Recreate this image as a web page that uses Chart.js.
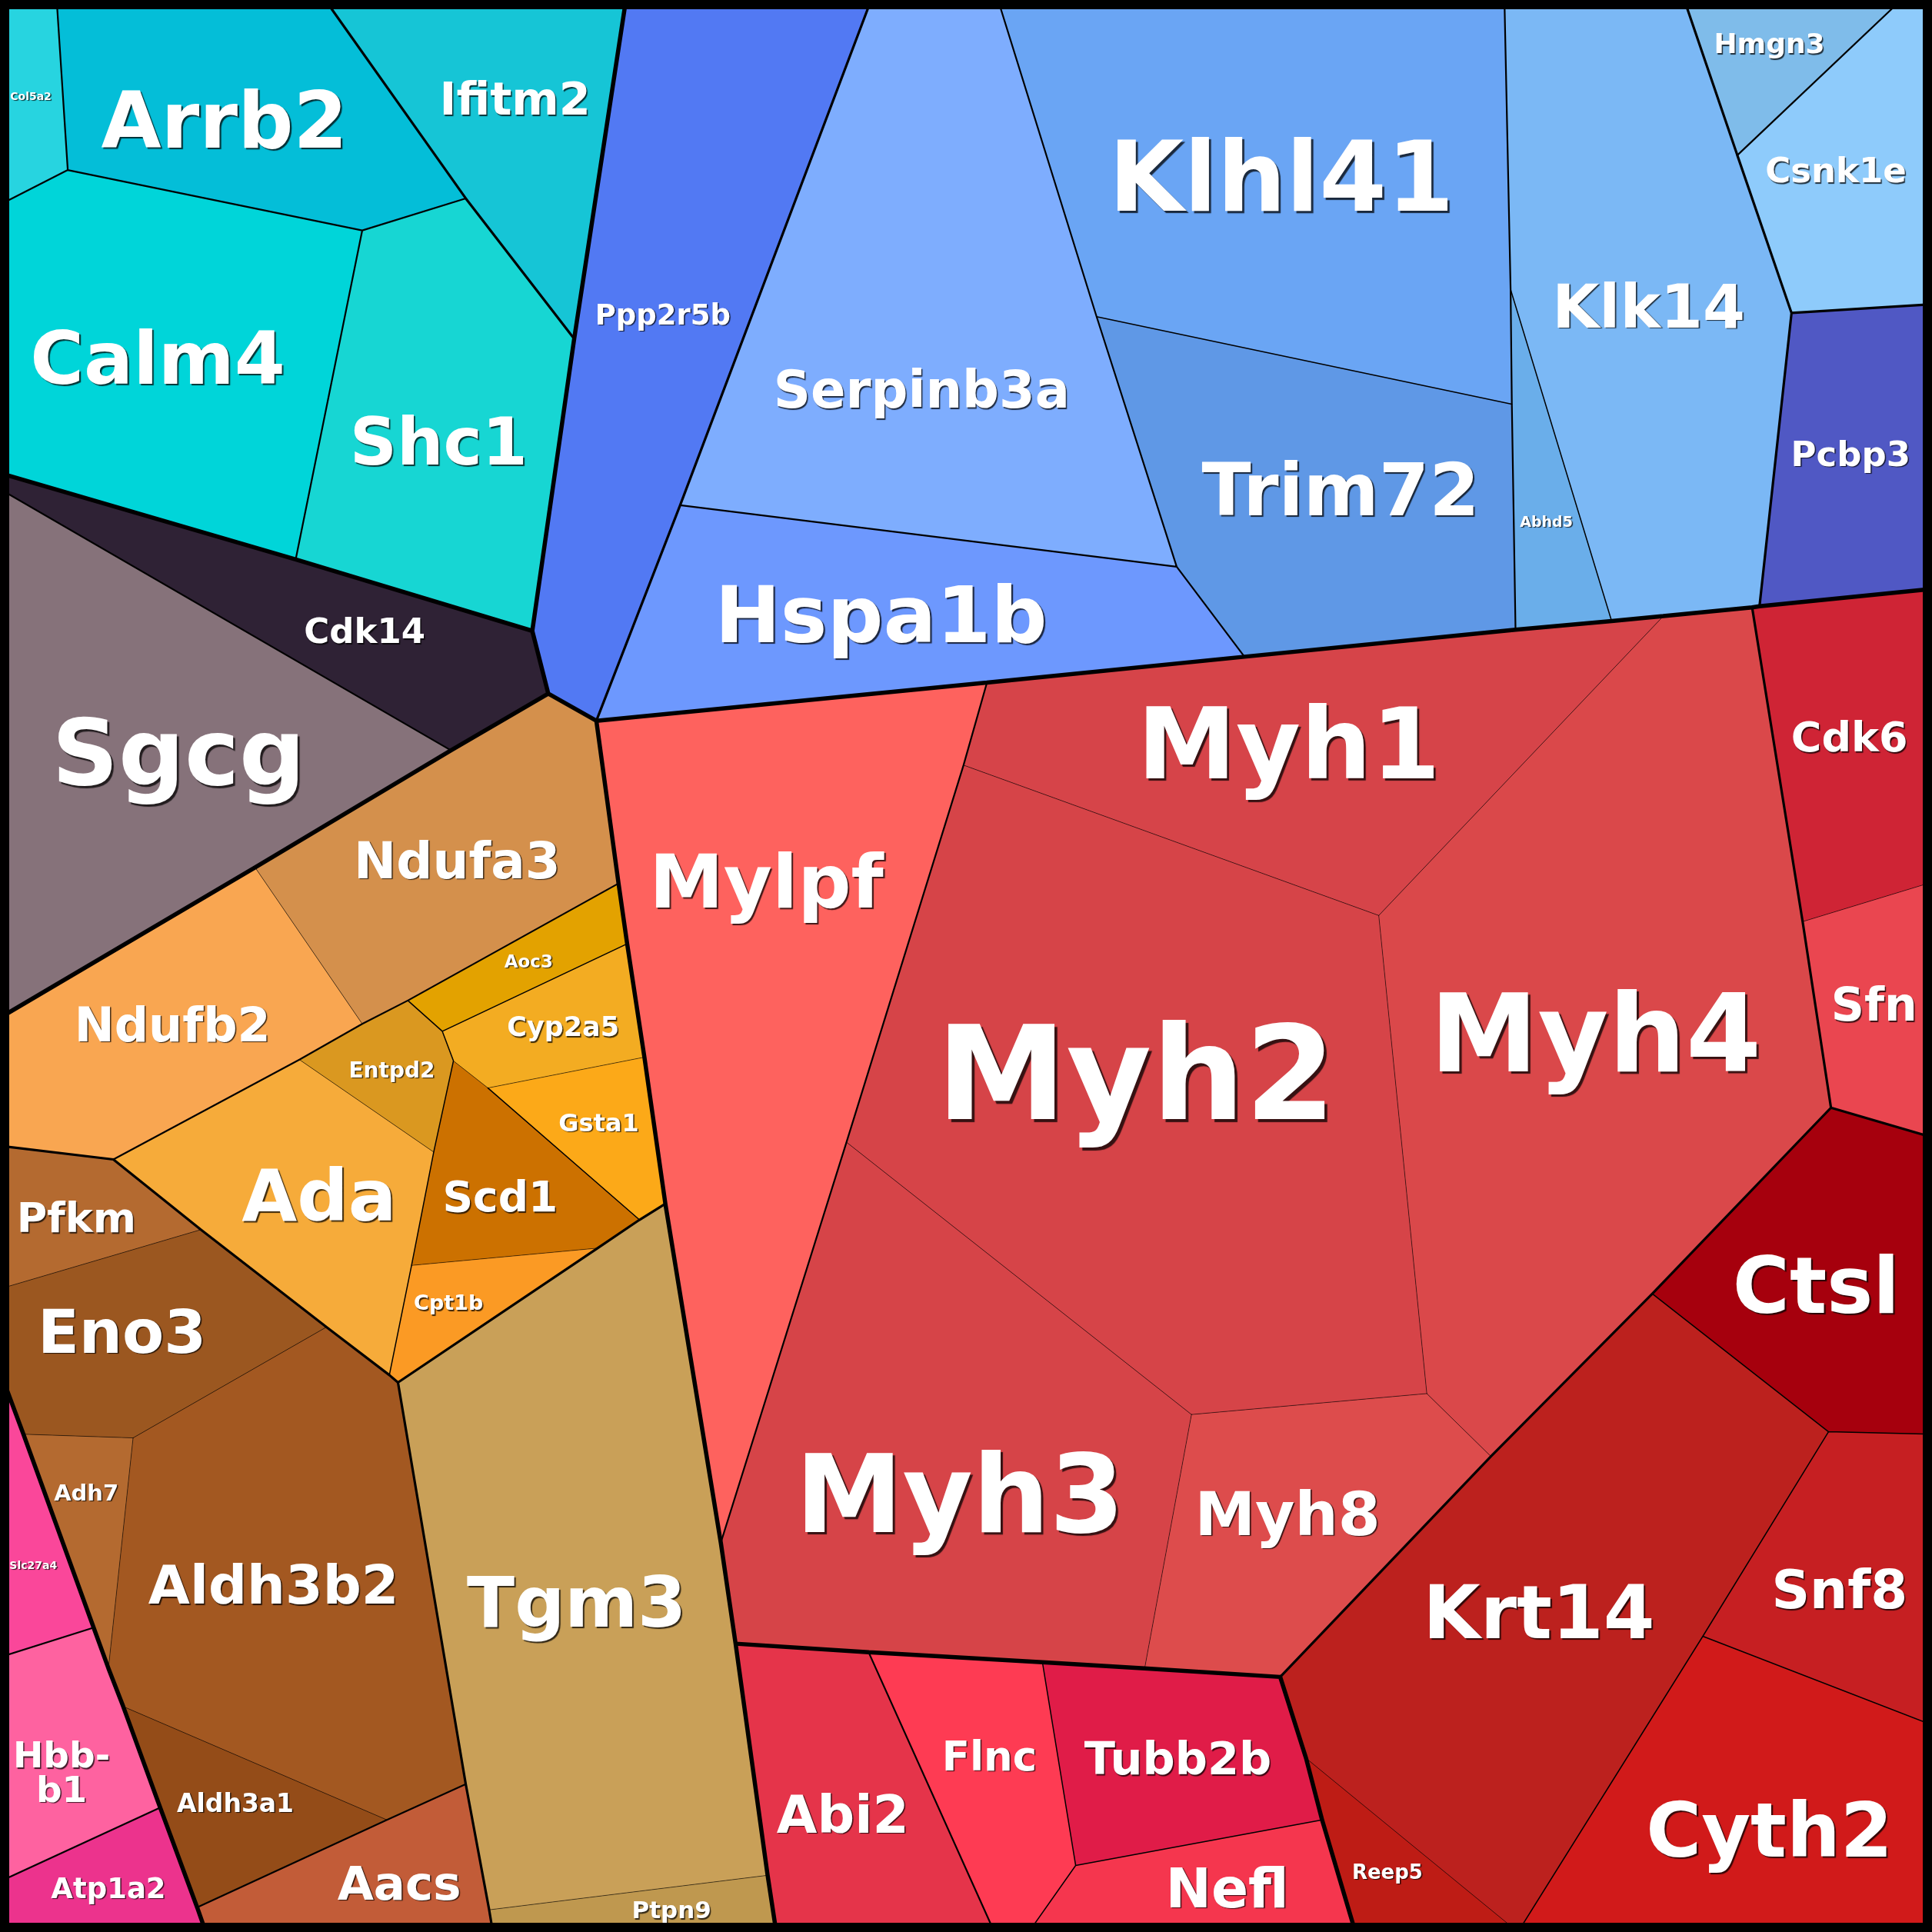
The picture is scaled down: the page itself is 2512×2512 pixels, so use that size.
<!DOCTYPE html>
<html>
<head>
<meta charset="utf-8">
<script src="https://cdn.jsdelivr.net/npm/chart.js@4.4.1/dist/chart.umd.min.js"></script>
<style>
  html, body { margin: 0; padding: 0; background: #000; }
  canvas { display: block; }
</style>
</head>
<body>
<canvas id="treemap" width="2512" height="2512"></canvas>
<script>
// Voronoi treemap cells, in reference units (0..1568 square)
const cellNames = ['Col5a2','Arrb2','Ifitm2','Calm4','Shc1','Cdk14','Sgcg','Ppp2r5b','Serpinb3a','Hspa1b',
  'Klhl41','Trim72','Abhd5','Klk14','Hmgn3','Csnk1e','Pcbp3','Mylpf','Myh1','Myh2','Myh4','Myh3','Myh8',
  'Cdk6','Sfn','Ctsl','Krt14','Snf8','Cyth2','Reep5','Abi2','Flnc','Tubb2b','Nefl','Ndufa3','Ndufb2','Aoc3',
  'Cyp2a5','Gsta1','Entpd2','Scd1','Ada','Cpt1b','Pfkm','Eno3','Adh7','Aldh3b2','Aldh3a1','Aacs','Tgm3',
  'Ptpn9','Slc27a4','Hbb-b1','Atp1a2'];

// hierarchy path of every cell (group.subgroup.…)
const cellGroups = ['cy.a.1','cy.a.2','cy.b.1','cy.a.3','cy.a.4','dk.a.1','dk.a.2','bl.a.1','bl.b.s','bl.b.h',
  'bl.b.k.1','bl.b.k.2','bl.b.l.2','bl.b.l.1','bl.c.1','bl.c.2','bl.d.1','rd.m.p','rd.m.h','rd.m.h','rd.m.h','rd.m.h','rd.m.h',
  'rd.c.1','rd.c.1','rd.k.a.1','rd.k.a.2','rd.k.a.3','rd.k.a.4','rd.k.a.2','bt.x.a','bt.x.b.1','bt.x.b.2','bt.x.b.3',
  'og.o.n','og.o.n','og.o.m.1','og.o.m.2','og.o.m.2','og.o.m.3','og.o.m.4','og.o.m.3','og.o.m.4',
  'og.b.p','og.b.p','og.b.p','og.b.p','og.b.p','og.b.a','og.t','og.t','pk.a.1','pk.a.2','pk.a.3'];

const cellPolygons = [
  [0,0, 46,0, 55,138, 0,166],                                   // Col5a2
  [46,0, 264,0, 378,161, 294,187, 55,138],                      // Arrb2
  [264,0, 508,0, 466,275, 378,161],                             // Ifitm2
  [0,166, 55,138, 294,187, 240,454, 0,384],                     // Calm4
  [294,187, 378,161, 466,275, 432,512, 240,454],                // Shc1
  [0,384, 240,454, 432,512, 445,563, 366,609, 0,397],           // Cdk14
  [0,397, 366,609, 0,826],                                      // Sgcg
  [508,0, 707,0, 552,410, 484,585, 445,563, 432,512, 466,275],  // Ppp2r5b
  [707,0, 810,0, 890,257, 955,460, 552,410],                    // Serpinb3a
  [552,410, 955,460, 1010,533, 801,554, 484,585],               // Hspa1b
  [810,0, 1221,0, 1227,328, 890,257],                           // Klhl41
  [890,257, 1227,328, 1230,511, 1010,533, 955,460],             // Trim72
  [1226,235, 1308,504, 1230,511, 1227,328],                     // Abhd5
  [1221,0, 1367,0, 1410,126, 1454,254, 1428,492, 1308,504, 1226,235], // Klk14
  [1367,0, 1543,0, 1410,126],                                   // Hmgn3
  [1543,0, 1568,0, 1568,247, 1454,254, 1410,126],               // Csnk1e
  [1454,254, 1568,247, 1568,478, 1428,492],                     // Pcbp3
  [484,585, 801,554, 782,621, 687,927, 585,1252, 540,977, 523,858, 509,766, 502,717], // Mylpf
  [801,554, 1350,500, 1119,743, 782,621],                       // Myh1
  [782,621, 1119,743, 1158,1131, 967,1148, 687,927],            // Myh2
  [1350,500, 1422,493, 1486,899, 1341,1050, 1210,1182, 1158,1131, 1119,743], // Myh4
  [687,927, 967,1148, 929,1354, 597,1334, 585,1252],            // Myh3
  [967,1148, 1158,1131, 1210,1182, 1039,1361, 929,1354],        // Myh8
  [1422,493, 1568,478, 1568,716, 1463,748],                     // Cdk6
  [1463,748, 1568,716, 1568,923, 1486,899],                     // Sfn
  [1486,899, 1568,923, 1568,1164, 1484,1162, 1341,1050],        // Ctsl
  [1341,1050, 1484,1162, 1382,1328, 1232,1568, 1060,1427, 1039,1361], // Krt14
  [1484,1162, 1568,1164, 1568,1400, 1382,1328],                 // Snf8
  [1382,1328, 1568,1400, 1568,1568, 1232,1568],                 // Cyth2
  [1060,1427, 1232,1568, 1100,1568, 1073,1477],                 // Reep5
  [597,1334, 705,1341, 807,1568, 630,1568],                     // Abi2
  [705,1341, 846,1349, 873,1514, 835,1568, 807,1568],           // Flnc
  [846,1349, 929,1354, 1039,1361, 1060,1427, 1073,1477, 873,1514], // Tubb2b
  [873,1514, 1073,1477, 1100,1568, 835,1568],                   // Nefl
  [207,704, 366,609, 445,563, 484,585, 502,717, 331,812, 294,831], // Ndufa3
  [0,826, 207,704, 294,831, 243,860, 92,941, 0,930],            // Ndufb2
  [331,812, 502,717, 509,766, 359,837],                         // Aoc3
  [359,837, 509,766, 523,858, 396,883, 368,861],                // Cyp2a5
  [368,861, 396,883, 523,858, 540,977, 519,990],                // Gsta1
  [294,831, 331,812, 359,837, 368,861, 352,935, 243,860],       // Entpd2
  [368,861, 519,990, 485,1013, 334,1027, 352,935],              // Scd1
  [92,941, 243,860, 352,935, 334,1027, 316,1116, 265,1077, 163,998], // Ada
  [334,1027, 485,1013, 323,1122, 316,1116],                     // Cpt1b
  [0,930, 92,941, 163,998, 0,1046],                             // Pfkm
  [0,1046, 163,998, 265,1077, 108,1167, 19,1164, 0,1113],       // Eno3
  [19,1164, 108,1167, 88,1354],                                 // Adh7
  [108,1167, 265,1077, 323,1122, 378,1448, 314,1477, 100,1385, 88,1354], // Aldh3b2
  [100,1385, 314,1477, 160,1548],                               // Aldh3a1
  [160,1548, 314,1477, 378,1448, 397,1550, 400,1568, 167,1568], // Aacs
  [323,1122, 540,977, 585,1252, 597,1334, 623,1522, 397,1550],  // Tgm3
  [397,1550, 623,1522, 630,1568, 400,1568],                     // Ptpn9
  [0,1113, 76,1321, 0,1345],                                    // Slc27a4
  [0,1345, 76,1321, 130,1467, 0,1527],                          // Hbb-b1
  [0,1527, 130,1467, 167,1568, 0,1568]                          // Atp1a2
];

const cellColors = ['#27d4e0','#04bed8','#16c5d6','#00d5d9','#17d6d3','#2f2235','#86727a','#5279f3','#7eadfe','#6d98fe',
  '#6aa5f4','#5f98e6','#6aaeea','#7bb8f5','#7fbcea','#8ecbfb','#5058c4','#fe625e','#d64449','#d64448','#da484a','#d64448','#dd4c4c',
  '#cf2435','#ea4650','#a6000d','#bc211e','#c61f22','#d11a1a','#be1c15','#e5344a','#fe3b53','#e01c48','#f5364e',
  '#d4904c','#f9a651','#e3a200','#f3ac22','#fca918','#da9820','#cc7100','#f6ab3a','#fb9a24',
  '#b46a30','#9b5720','#b46a30','#a35821','#944c18','#c25c38','#c9a058','#bf984f','#fa479a','#fe62a0','#ec338d'];

// label anchor (cell site) in reference units, and label font size in px
const labelPos = [[25,78],[182,97],[418,80],[128,290],[356,358],[296,512],[145,610],[538,255],[748,316],[715,498],
  [1040,143],[1088,397],[1255,423],[1338,248],[1436,35],[1490,138],[1502,368],[622,715],[1046,603],[922,870],[1295,838],[779,1212],[1045,1228],
  [1501,598],[1521,815],[1474,1043],[1249,1308],[1493,1290],[1436,1485],[1126,1519],[684,1472],[803,1425],[956,1427],[996,1532],
  [371,698],[140,831],[429,780],[457,833],[486,911],[318,868],[406,971],[259,970],[364,1057],
  [62,988],[99,1080],[70,1211],[222,1286],[191,1463],[324,1528],[468,1300],[545,1550],[27,1270],[50,1438],[88,1532]];
const labelSizes = [14,101,59,95,85,45,120,37,67,102, 126,94,19,79,36,45,45,97,129,170,141,140,79,
  54,60,101,96,69,98,26,68,53,59,71, 66,62,23,35,32,28,55,93,27, 54,79,29,70,33,61,91,31,14,47,37];

const SIZE = 1568;
const TOL = 3.5;
const levelWidths = [5.5, 3.2, 2.2, 1.5];
const frameWidth = 24;

// shared vertex table so neighbouring cells use identical corners
const verts = [];
function vertexId(x, y) {
  for (let i = 0; i < verts.length; i++) {
    if (Math.hypot(verts[i][0] - x, verts[i][1] - y) < TOL) return i;
  }
  verts.push([x, y]);
  return verts.length - 1;
}
const rings = cellPolygons.map(flat => {
  const r = [];
  for (let i = 0; i < flat.length; i += 2) {
    const id = vertexId(flat[i], flat[i + 1]);
    if (r[r.length - 1] !== id) r.push(id);
  }
  if (r[0] === r[r.length - 1]) r.pop();
  return r;
});
// add T-junction corners lying on an edge
const fullRings = rings.map(r => {
  const out = [];
  r.forEach((a, k) => {
    const b = r[(k + 1) % r.length];
    out.push(a);
    const [ax, ay] = verts[a], [bx, by] = verts[b];
    const dx = bx - ax, dy = by - ay, len2 = dx * dx + dy * dy;
    const mids = [];
    verts.forEach((v, id) => {
      if (id === a || id === b) return;
      const t = ((v[0] - ax) * dx + (v[1] - ay) * dy) / len2;
      if (t <= 0.001 || t >= 0.999) return;
      if (Math.hypot(v[0] - (ax + t * dx), v[1] - (ay + t * dy)) < TOL) mids.push([t, id]);
    });
    mids.sort((p, q) => p[0] - q[0]).forEach(m => out.push(m[1]));
  });
  return out;
});

// edges and their neighbouring cells
const edgeMap = new Map();
fullRings.forEach((r, ci) => r.forEach((a, k) => {
  const b = r[(k + 1) % r.length];
  const key = a < b ? a + '-' + b : b + '-' + a;
  if (!edgeMap.has(key)) edgeMap.set(key, { a, b, cells: [] });
  edgeMap.get(key).cells.push(ci);
}));

function onBorder(v) {
  return v[0] <= 0 || v[0] >= SIZE || v[1] <= 0 || v[1] >= SIZE;
}
function edgeStyle(e) {
  if (e.cells.length < 2) {
    if (onBorder(verts[e.a]) && onBorder(verts[e.b])) return { w: frameWidth, c: '#000000' };
    return { w: 2, c: '#000000' };
  }
  const p = cellGroups[e.cells[0]].split('.');
  const q = cellGroups[e.cells[1]].split('.');
  for (let d = 0; d < Math.max(p.length, q.length); d++) {
    if (p[d] !== q[d]) return { w: levelWidths[Math.min(d, 3)], c: '#000000' };
  }
  return { w: 1, c: 'rgba(0,0,0,0.55)' };
}

const edgeGroups = {};
edgeMap.forEach(e => {
  const s = edgeStyle(e);
  const key = s.w + '|' + s.c;
  if (!edgeGroups[key]) edgeGroups[key] = { w: s.w, c: s.c, data: [] };
  edgeGroups[key].data.push({ x: verts[e.a][0], y: verts[e.a][1] }, { x: verts[e.b][0], y: verts[e.b][1] }, { x: null, y: null });
});

const datasets = [];
fullRings.forEach((r, ci) => {
  const pts = r.map(id => ({ x: verts[id][0], y: verts[id][1] }));
  pts.push(pts[0]);
  datasets.push({
    label: cellNames[ci],
    data: pts,
    showLine: true,
    fill: 'shape',
    backgroundColor: cellColors[ci],
    borderWidth: 0,
    pointRadius: 0,
    order: 100
  });
});
Object.values(edgeGroups).forEach(g => {
  datasets.push({
    label: 'edges ' + g.w,
    data: g.data,
    showLine: true,
    fill: false,
    spanGaps: false,
    borderColor: g.c,
    borderWidth: g.w,
    borderCapStyle: 'round',
    pointRadius: 0,
    order: 50 - g.w
  });
});

// cell labels at their sites
const labelPlugin = {
  id: 'cellLabels',
  afterDatasetsDraw(chart) {
    const { ctx, scales: { x, y } } = chart;
    fullRings.forEach((r, ci) => {
      let minX = Infinity, maxX = -Infinity;
      r.forEach(id => {
        const px = x.getPixelForValue(verts[id][0]);
        minX = Math.min(minX, px); maxX = Math.max(maxX, px);
      });
      const size = labelSizes[ci];
      const cx = x.getPixelForValue(labelPos[ci][0]);
      const cy = y.getPixelForValue(labelPos[ci][1]) + size * 0.1;
      const name = cellNames[ci];
      ctx.save();
      ctx.font = 'bold ' + size + 'px "DejaVu Sans"';
      ctx.textAlign = 'center';
      ctx.textBaseline = 'middle';
      let lines = [name];
      if (name.includes('-') && ctx.measureText(name).width > 0.85 * (maxX - minX)) {
        const i = name.indexOf('-') + 1;
        lines = [name.slice(0, i), name.slice(i)];
      }
      const off = Math.max(1.5, size * 0.022);
      ctx.shadowColor = 'rgba(0,0,0,0.75)';
      ctx.shadowOffsetX = off;
      ctx.shadowOffsetY = off;
      ctx.shadowBlur = 1;
      ctx.fillStyle = '#ffffff';
      const lh = size * 0.95;
      lines.forEach((t, k) => {
        ctx.fillText(t, cx, cy + (k - (lines.length - 1) / 2) * lh);
      });
      ctx.restore();
    });
  }
};

new Chart(document.getElementById('treemap').getContext('2d'), {
  type: 'scatter',
  data: { datasets },
  options: {
    responsive: false,
    animation: false,
    layout: { padding: 0 },
    elements: { line: { tension: 0 }, point: { radius: 0 } },
    scales: {
      x: { type: 'linear', min: 0, max: SIZE, display: false },
      y: { type: 'linear', min: 0, max: SIZE, reverse: true, display: false }
    },
    plugins: { legend: { display: false }, tooltip: { enabled: false } },
    events: []
  },
  plugins: [labelPlugin]
});
</script>
</body>
</html>
